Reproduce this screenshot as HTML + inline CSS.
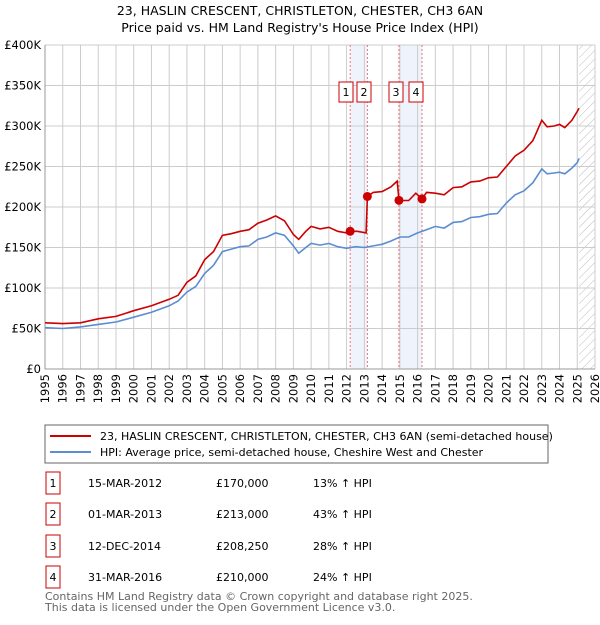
<!DOCTYPE html>
<html><head><meta charset="utf-8"><style>
body{margin:0;background:#fff;font-family:"Liberation Sans","DejaVu Sans",sans-serif;}
svg text{font-family:"DejaVu Sans","Liberation Sans",sans-serif;}
</style></head><body>
<svg id="c" width="600" height="620" xmlns="http://www.w3.org/2000/svg">
<defs><pattern id="hatch" width="6" height="6" patternUnits="userSpaceOnUse" patternTransform="rotate(45)"><line x1="0" y1="0" x2="0" y2="6" stroke="#bbb" stroke-width="1"/></pattern></defs>
<text x="300" y="15" text-anchor="middle" font-size="12.5">23, HASLIN CRESCENT, CHRISTLETON, CHESTER, CH3 6AN</text>
<text x="300" y="32" text-anchor="middle" font-size="12.5">Price paid vs. HM Land Registry's House Price Index (HPI)</text>
<g id="plot"></g>
<rect x="45" y="425" width="503" height="38" fill="none" stroke="#666"/>
<line x1="50" y1="436" x2="91" y2="436" stroke="#cc0000" stroke-width="2"/>
<text x="100" y="440" font-size="11">23, HASLIN CRESCENT, CHRISTLETON, CHESTER, CH3 6AN (semi-detached house)</text>
<line x1="50" y1="452" x2="91" y2="452" stroke="#5b8dd0" stroke-width="2"/>
<text x="100" y="456" font-size="11">HPI: Average price, semi-detached house, Cheshire West and Chester</text>
<g id="table"></g>
<text x="45" y="600" font-size="11" fill="#666">Contains HM Land Registry data © Crown copyright and database right 2025.</text>
<text x="45" y="611" font-size="11" fill="#666">This data is licensed under the Open Government Licence v3.0.</text>
</svg>
<script>
const hpiYears=[1995,1996,1997,1998,1999,2000,2001,2002,2002.5,2003,2003.5,2004,2004.5,2005,2005.5,2006,2006.5,2007,2007.5,2008,2008.5,2009,2009.3,2009.7,2010,2010.5,2011,2011.5,2012,2012.5,2013,2013.5,2014,2014.5,2015,2015.5,2016,2016.5,2017,2017.5,2018,2018.5,2019,2019.5,2020,2020.5,2021,2021.5,2022,2022.5,2023,2023.3,2023.7,2024,2024.3,2024.7,2025,2025.1];
const hpiValues=[51,50,52,55,58,64,70,78,84,95,102,118,128,145,148,151,152,160,163,168,165,152,143,150,155,153,155,151,149,151,150,152,154,158,163,163,168,172,176,174,181,182,187,188,191,192,205,215,220,230,247,241,242,243,241,248,255,260];
const priceYears=[1995,1996,1997,1998,1999,2000,2001,2002,2002.5,2003,2003.5,2004,2004.5,2005,2005.5,2006,2006.5,2007,2007.5,2008,2008.5,2009,2009.3,2009.7,2010,2010.5,2011,2011.5,2012,2012.2,2012.6,2013.1,2013.17,2013.5,2014,2014.5,2014.85,2014.95,2015.5,2015.9,2016.25,2016.5,2017,2017.5,2018,2018.5,2019,2019.5,2020,2020.5,2021,2021.5,2022,2022.5,2023,2023.3,2023.7,2024,2024.3,2024.7,2025,2025.1];
const priceValues=[57,56,57,62,65,72,78,86,91,107,115,135,145,165,167,170,172,180,184,189,183,166,160,170,176,173,175,170,168,170,170,168,213,218,219,225,232,208,208,217,210,218,217,215,224,225,231,232,236,237,250,263,270,282,307,299,300,302,298,307,318,322];
const saleLabels=["1","2","3","4"];
const saleYears=[2012.2,2013.17,2014.95,2016.25];
const saleValues=[170,213,208.25,210];
const saleDates=["15-MAR-2012","01-MAR-2013","12-DEC-2014","31-MAR-2016"];
const salePrices=["£170,000","£213,000","£208,250","£210,000"];
const saleDiffs=["13% ↑ HPI","43% ↑ HPI","28% ↑ HPI","24% ↑ HPI"];
const yTicks=[0,50,100,150,200,250,300,350,400];
const yTickLabels=["£0","£50K","£100K","£150K","£200K","£250K","£300K","£350K","£400K"];
const xTicks=[1995,1996,1997,1998,1999,2000,2001,2002,2003,2004,2005,2006,2007,2008,2009,2010,2011,2012,2013,2014,2015,2016,2017,2018,2019,2020,2021,2022,2023,2024,2025,2026];

const NS="http://www.w3.org/2000/svg";
const X0=45,X1=595,Y0=369,Y1=45;
const xs=y=>X0+(y-1995)/(2026-1995)*(X1-X0);
const ys=v=>Y0-v/400*(Y0-Y1);
const g=document.getElementById('plot');
function mk(tag,attrs,parent){const e=document.createElementNS(NS,tag);for(const k in attrs)e.setAttribute(k,attrs[k]);(parent||g).appendChild(e);return e;}
// shaded bands
for(let i=0;i<4;i+=2){
 const b=mk('rect',{x:xs(saleYears[i]),y:Y1,width:xs(saleYears[i+1])-xs(saleYears[i]),height:Y0-Y1,fill:'#eef3fc'});
 
 
}
// hatch
const hs=mk('rect',{x:xs(2025.1),y:Y1,width:X1-xs(2025.1),height:Y0-Y1,fill:'url(#hatch)'});


// grid
yTicks.forEach((t,i)=>{
 const l=mk('line',{x1:X0,x2:X1,y1:ys(t),y2:ys(t),stroke:'#ccc'});
 
 
 const tx=mk('text',{x:X0-4,y:ys(t)+4,'text-anchor':'end','font-size':'11.5'});tx.textContent=yTickLabels[i];
 
 
});
xTicks.forEach(t=>{
 const l=mk('line',{x1:xs(t),x2:xs(t),y1:Y1,y2:Y0,stroke:'#ccc'});
 
 
 const tx=mk('text',{x:0,y:0,'font-size':'11.5','text-anchor':'end',transform:`translate(${xs(t)+4},${Y0+5}) rotate(-90)`});tx.textContent=t;
 
 
});
const ax=mk('path',{d:`M${X0},${Y1}V${Y0}H${X1}`,fill:'none',stroke:'#999'});


// sale vlines
saleYears.forEach(s=>{
 const l=mk('line',{x1:xs(s),x2:xs(s),y1:Y1,y2:Y0,stroke:'#f07070','stroke-dasharray':'2,2'});
 
 
});
function line(xa,va,col,name){
 const p=mk('path',{d:xa.map((x,i)=>(i?'L':'M')+xs(x).toFixed(1)+','+ys(va[i]).toFixed(1)).join(''),fill:'none',stroke:col,'stroke-width':1.6});
 
 
}
line(hpiYears,hpiValues,'#5b8dd0','hpi-line');
line(priceYears,priceValues,'#cc0000','price-paid-line');
saleYears.forEach((s,i)=>{
 const c=mk('circle',{cx:xs(s),cy:ys(saleValues[i]),r:4.5,fill:'#cc0000'});
 
 
 const lx=[346,364,396,416][i];
 const r=mk('rect',{x:lx-7,y:82,width:14,height:20,fill:'#fff',stroke:'#cc0000'});
 
 
 const t=mk('text',{x:lx,y:96,'text-anchor':'middle','font-size':'11'});t.textContent=saleLabels[i];
 
 
});
// table
const tb=document.getElementById('table');
const rowsY=[483,514,546,577];
saleLabels.forEach((s,i)=>{
 const y=rowsY[i];
 const r=mk('rect',{x:46,y:y-11,width:14,height:22,fill:'none',stroke:'#cc0000'},tb);
 
 
 const vals=[[s,53,'middle'],[saleDates[i],88,'start'],[salePrices[i],216,'start'],[saleDiffs[i],313,'start']];
 vals.forEach(v=>{
  const t=mk('text',{x:v[1],y:y+4,'text-anchor':v[2],'font-size':'11'},tb);t.textContent=v[0];
  
  
 });
});
</script>
</body></html>
